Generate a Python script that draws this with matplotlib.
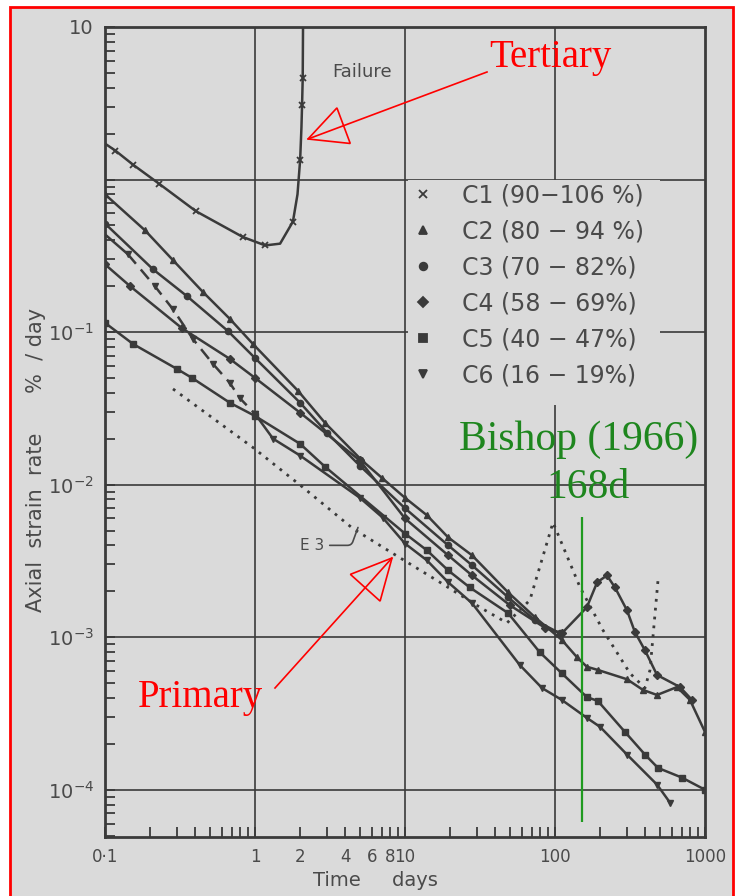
import matplotlib
matplotlib.use('Agg')
import matplotlib.pyplot as plt
from matplotlib.lines import Line2D
from matplotlib.patches import Polygon, Rectangle
from matplotlib.ticker import LogLocator, NullFormatter
import numpy as np

# time (days) and axial strain rate (%/day)
c1_t = [0.1, 0.117, 0.154, 0.229, 0.404, 0.83, 1.17, 1.47, 1.79, 1.92, 2.0, 2.04, 2.06, 2.08, 2.09]
c1_r = [1.72, 1.55, 1.25, 0.94, 0.62, 0.42, 0.37, 0.38, 0.53, 0.8, 1.35, 2.2, 3.1, 4.6, 10]
c1_marks = [1, 2, 3, 4, 5, 6, 8, 10, 12, 13]

c2_t = [0.1, 0.185, 0.284, 0.45, 0.68, 0.97, 1.94, 2.93, 5.17, 7.0, 10, 14, 19.4, 28, 48.6,
        73.6, 111, 140, 163, 193, 302, 386, 479, 650, 794, 1000]
c2_r = [0.80, 0.464, 0.296, 0.183, 0.122, 0.0835, 0.0411, 0.0254, 0.0144, 0.0111, 0.0082,
        0.0063, 0.00451, 0.00344, 0.00197, 0.00135, 0.00096, 0.00074, 0.00064, 0.00061,
        0.00053, 0.000451, 0.000418, 0.000471, 0.000388, 0.000239]

c3_t = [0.1, 0.209, 0.352, 0.66, 1.0, 2.0, 3.02, 5.0, 10, 19.4, 28, 48.6, 73.6, 108]
c3_r = [0.515, 0.258, 0.172, 0.1016, 0.0676, 0.0344, 0.0219, 0.0133, 0.0070, 0.0040,
        0.00296, 0.00183, 0.00129, 0.00106]

c4_t = [0.1, 0.147, 0.326, 0.68, 1.0, 2.0, 5.0, 10, 19.4, 28, 50, 86, 111, 163, 191, 222,
        251, 302, 341, 398, 479, 681, 819]
c4_r = [0.278, 0.2, 0.106, 0.0667, 0.0501, 0.0296, 0.0144, 0.0060, 0.00344, 0.00254,
        0.00162, 0.00115, 0.00106, 0.00157, 0.00229, 0.00254, 0.00212, 0.0015, 0.00108,
        0.00082, 0.000565, 0.000471, 0.000388]

c5_t = [0.1, 0.154, 0.302, 0.38, 0.68, 1.0, 2.0, 2.93, 10, 14, 19.4, 27, 48.6, 79, 111,
        163, 193, 293, 398, 486, 703, 1000]
c5_r = [0.115, 0.0835, 0.0573, 0.0501, 0.0344, 0.0282, 0.0185, 0.0131, 0.00478, 0.00371,
        0.00274, 0.00212, 0.00144, 0.000798, 0.00058, 0.000405, 0.000382, 0.000239,
        0.00017, 0.000139, 0.00012, 0.0001]

c6_t = [0.1, 0.142, 0.215, 0.284, 0.386, 0.525, 0.68, 0.79, 1.0, 1.32, 2.0, 5.0, 7.1, 10,
        14, 19.4, 28, 58, 82, 111, 163, 200, 302, 479, 585]
c6_r = [0.437, 0.324, 0.2, 0.141, 0.090, 0.0618, 0.0464, 0.037, 0.0291, 0.02, 0.0155,
        0.0082, 0.00608, 0.00411, 0.00319, 0.00229, 0.00167, 0.00066, 0.000464, 0.000388,
        0.000296, 0.000258, 0.00017, 0.000108, 0.0000822]

e3_t = [0.284, 0.97, 2.06, 4.5, 8.3, 17.1, 31.6, 47.9, 68, 97, 147, 209, 316, 398, 430, 486]
e3_r = [0.0424, 0.0175, 0.0097, 0.00515, 0.00354, 0.00229, 0.00157, 0.00124, 0.00175,
        0.00565, 0.00212, 0.00111, 0.00058, 0.000464, 0.00061, 0.00236]

bishop_day = 152
bishop_span = [6.1e-5, 6.1e-3]

legend_labels = ['C1 (90\u2212106 %)', 'C2 (80 \u2212 94 %)', 'C3 (70 \u2212 82%)',
                 'C4 (58 \u2212 69%)', 'C5 (40 \u2212 47%)', 'C6 (16 \u2212 19%)']
legend_marks = ['x', '^', 'o', 'D', 's', 'v']

xtick_vals = [0.1, 1, 2, 4, 6, 8, 10, 100, 1000]
xtick_text = ['0\u00b71', '1', '2', '4', '6', '8', '10', '100', '1000']
ytick_vals = [10, 1, 0.1, 0.01, 1e-3, 1e-4]
ytick_text = ['10', '', '$10^{-1}$', '$10^{-2}$', '$10^{-3}$', '$10^{-4}$']

W, H = 735, 896
bg = '#dadada'
ink = '#3a3a3a'
txt = '#4a4a4a'

fig = plt.figure(figsize=(W / 100, H / 100), dpi=100)
fig.patch.set_facecolor('white')
fig.patches.append(Rectangle((10 / W, -0.02), 723 / W, 1.02 - 7 / H, transform=fig.transFigure,
                             fc=bg, ec='red', lw=2, zorder=-10))

ax = fig.add_axes([105 / W, 59 / H, 600 / W, 810 / H])
ax.set_facecolor('none')
ax.set_xscale('log')
ax.set_yscale('log')
ax.set_xlim(0.1, 1000)
ax.set_ylim(4.9e-5, 10)

for v in [1, 10, 100]:
    ax.axvline(v, color=ink, lw=1.2, zorder=1)
for v in [1, 0.1, 0.01, 1e-3, 1e-4]:
    ax.axhline(v, color=ink, lw=1.2, zorder=1)

# blank patch behind the key, the grid is not drawn there
ax.add_patch(Rectangle((0.505, 0.533), 0.42, 0.278, transform=ax.transAxes,
                       fc=bg, ec='none', zorder=1.5))

ax.set_xticks(xtick_vals)
ax.set_xticklabels(xtick_text)
ax.set_yticks(ytick_vals)
ax.set_yticklabels(ytick_text)
ax.xaxis.set_minor_locator(LogLocator(base=10, subs=range(2, 10), numticks=20))
ax.yaxis.set_minor_locator(LogLocator(base=10, subs=range(2, 10), numticks=20))
ax.xaxis.set_minor_formatter(NullFormatter())
ax.yaxis.set_minor_formatter(NullFormatter())
ax.tick_params(which='both', direction='in', length=7, width=1.3, color=ink,
               labelcolor=txt, top=False, right=False)
ax.tick_params(axis='x', pad=8, labelsize=12)
ax.tick_params(axis='y', pad=8, labelsize=14)
for s in ax.spines.values():
    s.set_linewidth(2)
    s.set_color(ink)

st = dict(color=ink, lw=1.8, ms=4.5, zorder=3)
ax.plot(c1_t, c1_r, marker='x', markevery=c1_marks, mew=1.3, **st)
ax.plot(c2_t, c2_r, marker='^', **st)
ax.plot(c3_t, c3_r, marker='o', **st)
ax.plot(c4_t, c4_r, marker='D', **st)
ax.plot(c5_t, c5_r, marker='s', **st)
ax.plot(c6_t[:2], c6_r[:2], **st)
ax.plot(c6_t[1:9], c6_r[1:9], marker='v', ls=(0, (5, 3)), **st)
ax.plot(c6_t[8:], c6_r[8:], marker='v', **st)
ax.plot(e3_t, e3_r, color=ink, lw=2, ls=(0, (1, 2.2)), zorder=2)

ax.vlines(bishop_day, bishop_span[0], bishop_span[1], color='#1f9a1f', lw=1.6, zorder=4)

handles = [Line2D([], [], marker=m, ls='none', color=ink, ms=5.5, mew=1.3) for m in legend_marks]
leg = ax.legend(handles, legend_labels, loc='upper left', bbox_to_anchor=(0.514, 0.807),
                frameon=False, fontsize=17, borderpad=0, borderaxespad=0,
                handlelength=0.8, handletextpad=1.25, labelspacing=0.51,
                labelcolor=txt)
leg.set_zorder(2)

ax.text(5.17, 5.1, 'Failure', color=txt, fontsize=13, ha='center', va='center')
ax.annotate('E 3', xy=(4.86, 0.00524), xytext=(2.4, 0.0040), color=txt, fontsize=11,
            ha='center', va='center',
            arrowprops=dict(arrowstyle='-', color=txt, lw=1.2,
                            connectionstyle='angle,angleA=0,angleB=70,rad=4',
                            shrinkA=2, shrinkB=0))

fig.text(36 / W, 1 - 460 / H, 'Axial  strain  rate      %  / day', rotation=90,
         color=txt, fontsize=15, ha='center', va='center')
fig.text(375 / W, 1 - 880 / H, 'Time     days', color=txt, fontsize=14,
         ha='center', va='center')


def red_arrow(tail, tip, hl, hw):
    sx, sy = tail
    tx, ty = tip
    dx, dy = tx - sx, ty - sy
    n = np.hypot(dx, dy)
    ux, uy = dx / n, dy / n
    bx, by = tx - hl * ux, ty - hl * uy
    nx, ny = -uy, ux
    pts = [(tx, ty), (bx + hw / 2 * nx, by + hw / 2 * ny), (bx - hw / 2 * nx, by - hw / 2 * ny)]
    fig.add_artist(Line2D([sx / W, tx / W], [1 - sy / H, 1 - ty / H], color='red', lw=1.2))
    fig.add_artist(Polygon([(x / W, 1 - y / H) for x, y in pts], closed=True, fill=False,
                           ec='red', lw=1.2, transform=fig.transFigure))


red_arrow((487, 72), (308, 139), 38, 38)
red_arrow((275, 688), (392, 558), 40, 40)

serif = ['Liberation Serif', 'DejaVu Serif']
fig.text(550 / W, 1 - 58 / H, 'Tertiary', color='red', fontsize=28, family=serif,
         ha='center', va='center')
fig.text(200 / W, 1 - 697 / H, 'Primary', color='red', fontsize=28, family=serif,
         ha='center', va='center')
fig.text(579 / W, 1 - 440 / H, 'Bishop (1966)', color='#1e861e', fontsize=30, family=serif,
         ha='center', va='center')
fig.text(588 / W, 1 - 488 / H, '168d', color='#1e861e', fontsize=30, family=serif,
         ha='center', va='center')

fig.savefig('out.png', dpi=100, facecolor=fig.get_facecolor())
